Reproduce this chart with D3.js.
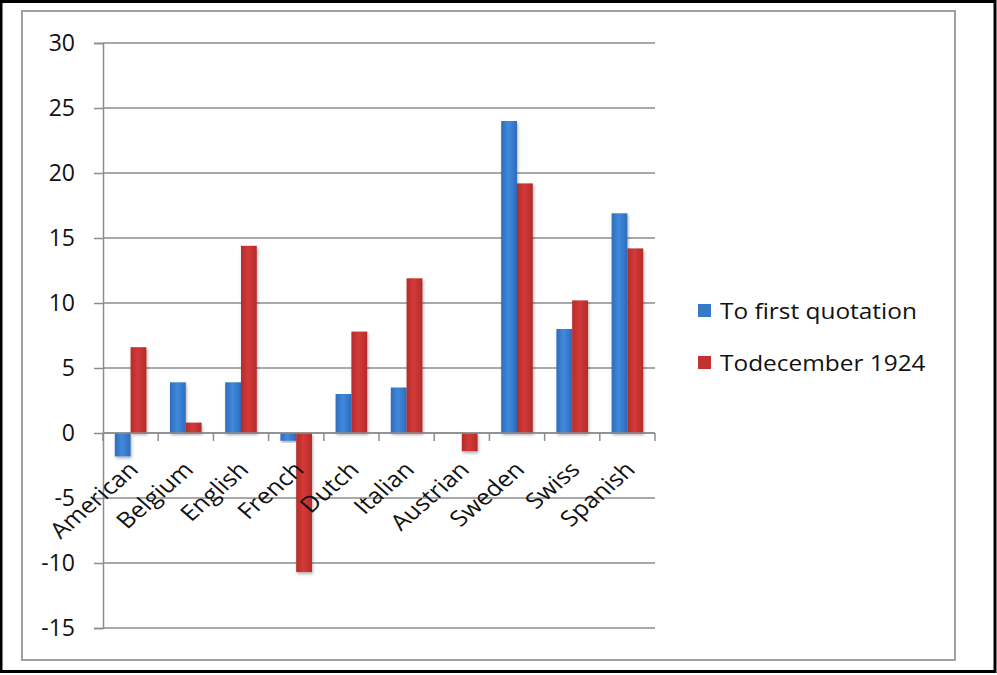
<!DOCTYPE html>
<html>
<head>
<meta charset="utf-8">
<script src="https://cdn.jsdelivr.net/npm/d3@7"></script>
<style>
  body { margin: 0; background: #fff; }
  svg text { font-family: "Open Sans", "Noto Sans", "Liberation Sans", sans-serif; fill: #111; }
</style>
</head>
<body>
<div id="chart"></div>
<script>
var categories = ["American", "Belgium", "English", "French", "Dutch", "Italian", "Austrian", "Sweden", "Swiss", "Spanish"];
var firstQuotation = [-1.8, 3.9, 3.9, -0.6, 3.0, 3.5, 0, 24, 8, 16.9];
var december1924 = [6.6, 0.8, 14.4, -10.7, 7.8, 11.9, -1.4, 19.2, 10.2, 14.2];
var seriesNames = ["To first quotation", "Todecember 1924"];
var yTicks = [30, 25, 20, 15, 10, 5, 0, -5, -10, -15];

var width = 997, height = 675;
var plotLeft = 103, plotRight = 655, plotTop = 43, plotBottom = 628;
var stretch = 1.15; // the source picture is a little wider than tall

var svg = d3.select("#chart").append("svg")
  .attr("width", width)
  .attr("height", height);

var defs = svg.append("defs");
function barGradient(id, edge, mid) {
  var g = defs.append("linearGradient").attr("id", id)
    .attr("x1", "0%").attr("x2", "100%").attr("y1", "0%").attr("y2", "0%");
  g.append("stop").attr("offset", "0%").attr("stop-color", edge);
  g.append("stop").attr("offset", "45%").attr("stop-color", mid);
  g.append("stop").attr("offset", "100%").attr("stop-color", edge);
}
barGradient("gradBlue", "#2e6cbc", "#4189dc");
barGradient("gradRed", "#b32b2b", "#d43a38");

var shadow = defs.append("filter").attr("id", "shadow")
  .attr("x", "-30%").attr("y", "-10%").attr("width", "160%").attr("height", "130%");
shadow.append("feDropShadow").attr("dx", 1).attr("dy", 2).attr("stdDeviation", 1.5)
  .attr("flood-color", "#000").attr("flood-opacity", 0.3);

// outer frame
svg.append("rect")
  .attr("x", 1).attr("y", 1.5).attr("width", 994).attr("height", 670)
  .attr("fill", "none").attr("stroke", "#000").attr("stroke-width", 3);

svg.append("rect")
  .attr("x", 22).attr("y", 11).attr("width", 933).attr("height", 649)
  .attr("fill", "#fff").attr("stroke", "#a0a0a0").attr("stroke-width", 2);

var y = d3.scaleLinear().domain([-15, 30]).range([plotBottom, plotTop]);
var x0 = d3.scaleBand().domain(categories).range([plotLeft, plotRight]).paddingInner(0.428).paddingOuter(0.214);
var x1 = d3.scaleBand().domain([0, 1]).range([0, x0.bandwidth()]);
var xEdge = d3.scaleLinear().domain([0, categories.length]).range([plotLeft, plotRight]);

// gridlines
svg.append("g").selectAll("line").data(yTicks).join("line")
  .attr("x1", plotLeft).attr("x2", plotRight)
  .attr("y1", function (d) { return y(d); })
  .attr("y2", function (d) { return y(d); })
  .attr("stroke", "#8c8c8c").attr("stroke-width", 1.5);

// y axis
var yAxis = svg.append("g")
  .attr("transform", "translate(" + plotLeft + ",0)")
  .call(d3.axisLeft(y).tickValues(yTicks).tickSize(9).tickPadding(19).tickFormat(d3.format("d")));
yAxis.select(".domain").attr("stroke", "#8c8c8c").attr("stroke-width", 1.5);
yAxis.selectAll(".tick line").attr("stroke", "#8c8c8c").attr("stroke-width", 1.5);
yAxis.selectAll(".tick text").attr("font-size", 23).attr("fill", "#111")
  .style("font-family", "'Open Sans', 'Noto Sans', sans-serif")
  .text(function (d) { return String(d); });

// bars
var series = [firstQuotation, december1924];
var fills = ["url(#gradBlue)", "url(#gradRed)"];
series.forEach(function (vals, si) {
  svg.append("g").selectAll("rect").data(vals).join("rect")
    .attr("x", function (d, i) { return x0(categories[i]) + x1(si); })
    .attr("width", x1.bandwidth())
    .attr("y", function (d) { return y(Math.max(0, d)); })
    .attr("height", function (d) { return Math.abs(y(d) - y(0)); })
    .attr("fill", fills[si])
    .attr("filter", "url(#shadow)");
});

// x axis at zero
var xAxis = svg.append("g");
xAxis.append("line")
  .attr("x1", plotLeft).attr("x2", plotRight)
  .attr("y1", y(0)).attr("y2", y(0))
  .attr("stroke", "#8c8c8c").attr("stroke-width", 1.5);
xAxis.selectAll("line.tick").data(d3.range(categories.length + 1)).join("line")
  .attr("class", "tick")
  .attr("x1", function (d) { return xEdge(d); })
  .attr("x2", function (d) { return xEdge(d); })
  .attr("y1", y(0)).attr("y2", y(0) + 8)
  .attr("stroke", "#8c8c8c").attr("stroke-width", 1.5);

xAxis.selectAll("text").data(categories).join("text")
  .attr("transform", function (d) {
    var cx = x0(d) + x0.bandwidth() / 2 + 9;
    return "translate(" + cx + "," + (y(0) + 38) + ") scale(" + stretch + ",1) rotate(-45)";
  })
  .attr("text-anchor", "end")
  .attr("font-size", 22)
  .text(function (d) { return d; });

// legend
var legend = svg.append("g").attr("transform", "translate(698,0)");
var legendColors = ["#3579c8", "#c53030"];
seriesNames.forEach(function (name, i) {
  var ly = 311 + i * 52;
  legend.append("rect")
    .attr("x", 0).attr("y", ly - 7).attr("width", 13).attr("height", 13)
    .attr("fill", legendColors[i]);
  legend.append("text")
    .attr("transform", "translate(22," + (ly + 8) + ") scale(1.11,1)")
    .attr("font-size", 22)
    .text(name);
});
</script>
</body>
</html>
